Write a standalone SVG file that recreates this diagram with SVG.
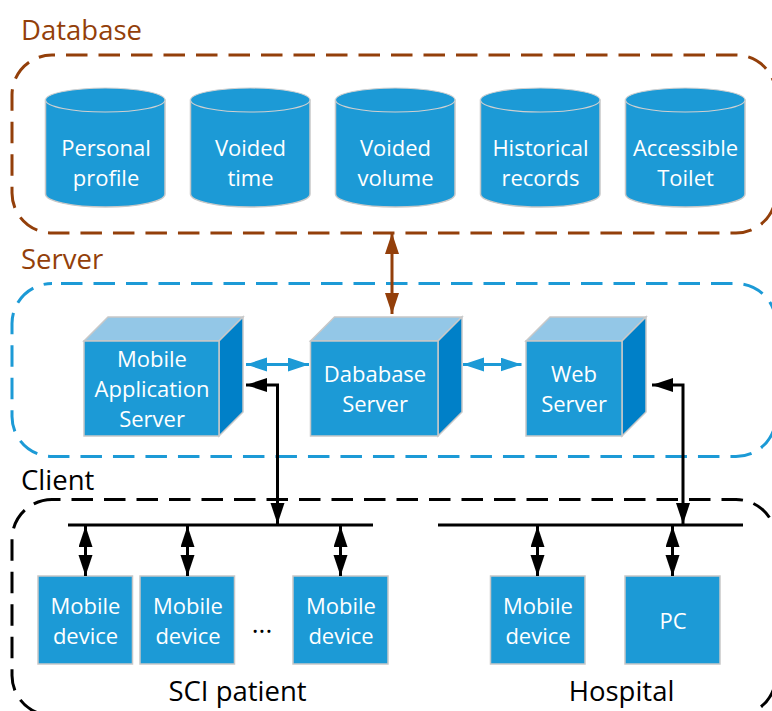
<svg xmlns="http://www.w3.org/2000/svg" width="772" height="711" viewBox="0 0 772 711">
<style>
text{font-family:"Open Sans","Noto Sans","Liberation Sans",sans-serif;font-size:22px;text-anchor:middle}
.w{fill:#fff}
.l{text-anchor:start;font-size:27.500px}
.b{font-size:27.500px;fill:#000}
.box{fill:none;stroke-width:3;stroke-dasharray:21.500 11}
.f{fill:#1c9ad6;stroke:#c8c8c8;stroke-width:1.5}
.t{fill:#93c7e7;stroke:#c8c8c8;stroke-width:1.5}
.s{fill:#0080c8;stroke:#c8c8c8;stroke-width:1.5}
.cap{fill:#1c9ad6;stroke:#d0d0d0;stroke-width:1.2}
.k{stroke:#000;stroke-width:3;fill:none}
</style>
<defs>
<marker id="ak" markerUnits="userSpaceOnUse" markerWidth="22" markerHeight="16" refX="21" refY="7" orient="auto-start-reverse"><path d="M0 0L21 7L0 14Z" fill="#000"/></marker>
<marker id="ab" markerUnits="userSpaceOnUse" markerWidth="22" markerHeight="16" refX="21" refY="7" orient="auto-start-reverse"><path d="M0 0L21 7L0 14Z" fill="#1c9ad6"/></marker>
<marker id="ar" markerUnits="userSpaceOnUse" markerWidth="22" markerHeight="16" refX="21" refY="7" orient="auto-start-reverse"><path d="M0 0L21 7L0 14Z" fill="#933f0a"/></marker>
<g id="cyl"><path class="f" d="M0 12V106C0 113 26 119 60 119S119.500 113 119.500 106V12Z"/><ellipse class="cap" cx="59.750" cy="12" rx="59.750" ry="12"/></g>
</defs>
<g id="groups">
<rect id="group-database" class="box" x="12" y="55" width="764" height="178" rx="40" stroke="#933f0a" stroke-dashoffset="18.500"/>
<rect id="group-server" class="box" x="12" y="283.500" width="764" height="173" rx="40" stroke="#1c9ad6" stroke-dashoffset="23.500"/>
<rect id="group-client" class="box" x="12" y="499.500" width="764" height="216" rx="40" stroke="#000" stroke-dashoffset="13"/>
</g>
<g id="labels">
<text class="l" x="21" y="40" fill="#933f0a">Database</text>
<text class="l" x="21" y="269" fill="#933f0a">Server</text>
<text class="l" x="21" y="490" fill="#000">Client</text>
<text class="b" x="237.500" y="701">SCI patient</text>
<text class="b" x="621.500" y="701">Hospital</text>
<text x="262" y="633" style="font-size:26px" fill="#000">...</text>
</g>
<g id="node-personal"><use href="#cyl" x="45.500" y="88"/><text class="w" x="106" y="156">Personal</text><text class="w" x="106" y="186">profile</text></g>
<g id="node-time"><use href="#cyl" x="190.500" y="88"/><text class="w" x="250.500" y="156">Voided</text><text class="w" x="250.500" y="186">time</text></g>
<g id="node-volume"><use href="#cyl" x="335.500" y="88"/><text class="w" x="395.500" y="156">Voided</text><text class="w" x="395.500" y="186">volume</text></g>
<g id="node-records"><use href="#cyl" x="480.500" y="88"/><text class="w" x="540.500" y="156">Historical</text><text class="w" x="540.500" y="186">records</text></g>
<g id="node-toilet"><use href="#cyl" x="625.500" y="88"/><text class="w" x="685.500" y="156">Accessible</text><text class="w" x="685.500" y="186">Toilet</text></g>
<g id="node-mobile-server">
<path class="t" d="M84 341L108 317H243L219 341Z"/><path class="s" d="M219 341L243 317V412L219 436Z"/><rect class="f" x="84" y="341" width="135" height="95"/>
<text class="w" x="152" y="367">Mobile</text><text class="w" x="152" y="397">Application</text><text class="w" x="152" y="427">Server</text></g>
<g id="node-database-server">
<path class="t" d="M310.500 341L334.500 317H462L438 341Z"/><path class="s" d="M438 341L462 317V412L438 436Z"/><rect class="f" x="310.500" y="341" width="127.500" height="95"/>
<text class="w" x="375" y="382">Dababase</text><text class="w" x="375" y="412">Server</text></g>
<g id="node-web-server">
<path class="t" d="M526 341L550 317H646L622 341Z"/><path class="s" d="M622 341L646 317V412L622 436Z"/><rect class="f" x="526" y="341" width="96" height="95"/>
<text class="w" x="574" y="382">Web</text><text class="w" x="574" y="412">Server</text></g>
<g id="node-device-1"><rect class="f" x="38" y="576" width="94.500" height="88"/><text class="w" x="85.500" y="614">Mobile</text><text class="w" x="85.500" y="644">device</text></g>
<g id="node-device-2"><rect class="f" x="140" y="576" width="94.500" height="88"/><text class="w" x="188" y="614">Mobile</text><text class="w" x="188" y="644">device</text></g>
<g id="node-device-3"><rect class="f" x="293" y="576" width="95" height="88"/><text class="w" x="341" y="614">Mobile</text><text class="w" x="341" y="644">device</text></g>
<g id="node-device-4"><rect class="f" x="490.500" y="576" width="94.500" height="88"/><text class="w" x="538" y="614">Mobile</text><text class="w" x="538" y="644">device</text></g>
<g id="node-pc"><rect class="f" x="625" y="576" width="95" height="88"/><text class="w" x="673" y="629">PC</text></g>
<g id="connectors">
<path d="M392 233V314" stroke="#933f0a" stroke-width="3" fill="none" marker-start="url(#ar)" marker-end="url(#ar)"/>
<path d="M246 364.500H309" stroke="#1c9ad6" stroke-width="3" fill="none" marker-start="url(#ab)" marker-end="url(#ab)"/>
<path d="M463 364.500H521.500" stroke="#1c9ad6" stroke-width="3" fill="none" marker-start="url(#ab)" marker-end="url(#ab)"/>
<path class="k" d="M246 385H277.500V524" marker-start="url(#ak)" marker-end="url(#ak)"/>
<path class="k" d="M652 385H683V524" marker-start="url(#ak)" marker-end="url(#ak)"/>
<path class="k" d="M68 525H373M438 525H743"/>
<path class="k" d="M85.500 526V576" marker-start="url(#ak)" marker-end="url(#ak)"/>
<path class="k" d="M187.500 526V576" marker-start="url(#ak)" marker-end="url(#ak)"/>
<path class="k" d="M340.500 526V576" marker-start="url(#ak)" marker-end="url(#ak)"/>
<path class="k" d="M537.500 526V576" marker-start="url(#ak)" marker-end="url(#ak)"/>
<path class="k" d="M672.500 526V576" marker-start="url(#ak)" marker-end="url(#ak)"/>
</g>
</svg>
